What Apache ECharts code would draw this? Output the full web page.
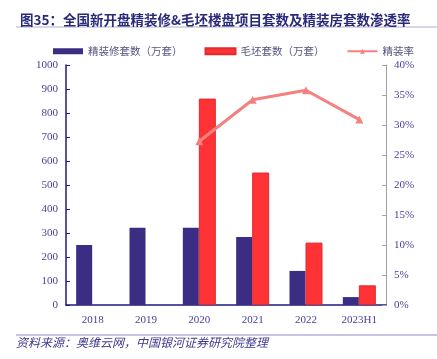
<!DOCTYPE html>
<html><head><meta charset="utf-8">
<script src="https://cdn.jsdelivr.net/npm/echarts@6/dist/echarts.min.js"></script>
<style>html,body{margin:0;padding:0;background:#fff}#c{width:437px;height:359px}</style>
</head><body><div id="c"></div>
<script>
const categories = ['2018','2019','2020','2021','2022','2023H1'];
const finishedUnits = [250, 322, 322, 283, 142, 33];
const roughUnits = [null, null, 860, 552, 260, 82];
const finishedRate = [null, null, 27.3, 34.2, 35.8, 30.9];
const leftTicks = {min:0, max:1000, interval:100};
const rightTicks = {min:0, max:40, interval:5};

const textColor = '#4a3d9a';
const chart = echarts.init(document.getElementById('c'));
chart.setOption({
  animation:false,
  title:{text:'图35：全国新开盘精装修&毛坯楼盘项目套数及精装房套数渗透率', left:15, top:8,
    textStyle:{fontSize:13.5, fontWeight:'bold', color:'#2a2a7a', fontFamily:'Noto Sans CJK SC'}},
  graphic:[
    {type:'line', shape:{x1:16,y1:27,x2:437,y2:27}, style:{stroke:'#b0aed0', lineWidth:1}},
    {type:'line', shape:{x1:16,y1:335,x2:437,y2:335}, style:{stroke:'#8c88c4', lineWidth:1}},
    {type:'text', left:16, top:336, style:{text:'资料来源：奥维云网，中国银河证券研究院整理', font:'italic 12px "Noto Sans CJK SC"', fill:'#3e3a8e'}}
  ],
  legend:{top:41, left:48, itemGap:22, itemWidth:30, itemHeight:6,
    textStyle:{fontSize:10.5, color:'#555580', fontFamily:'Noto Sans CJK SC'},
    data:[{name:'精装修套数（万套）', icon:'rect'},{name:'毛坯套数（万套）', icon:'rect'},{name:'精装率'}]},
  grid:{left:66, right:51, top:65, bottom:54},
  xAxis:{type:'category', data:categories,
    axisLine:{lineStyle:{color:'#1f1a80', width:1.5}},
    axisTick:{inside:true, length:4, lineStyle:{color:'#1f1a80'}},
    axisLabel:{color:textColor, fontSize:11, fontFamily:'Liberation Serif', margin:10}},
  yAxis:[
    {type:'value', min:leftTicks.min, max:leftTicks.max, interval:leftTicks.interval,
      splitLine:{show:false},
      axisLine:{show:true, lineStyle:{color:'#1f1a80', width:1.5}},
      axisTick:{show:true, inside:true, length:4, lineStyle:{color:'#1f1a80'}},
      axisLabel:{color:textColor, fontSize:11, fontFamily:'Liberation Serif', margin:8, formatter:(v)=>String(v)}},
    {type:'value', min:rightTicks.min, max:rightTicks.max, interval:rightTicks.interval,
      splitLine:{show:false},
      axisLine:{show:true, lineStyle:{color:'#a0a0a0', width:1}},
      axisTick:{show:true, inside:true, length:4, lineStyle:{color:'#a0a0a0'}},
      axisLabel:{color:textColor, fontSize:11, fontFamily:'Liberation Serif', margin:8, formatter:'{value}%'}}
  ],
  series:[
    {name:'精装修套数（万套）', type:'bar', data:finishedUnits, barWidth:16, barGap:'0%',
      itemStyle:{color:'#3b2d84'}},
    {name:'毛坯套数（万套）', type:'bar', data:roughUnits, barWidth:17,
      itemStyle:{color:'#ff3336', borderColor:'#e02a2e', borderWidth:1}},
    {name:'精装率', type:'line', yAxisIndex:1, data:finishedRate, symbol:'triangle', symbolSize:8,
      lineStyle:{color:'#f48080', width:3}, itemStyle:{color:'#f48080'}}
  ]
});
</script></body></html>
